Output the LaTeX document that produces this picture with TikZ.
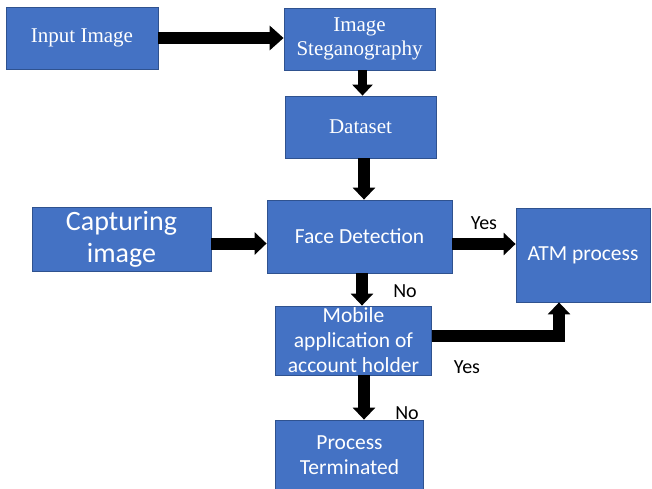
\documentclass[tikz,border=0pt]{standalone}
\usepackage{fontspec}
\setmainfont{Liberation Serif}
\newfontfamily\calibrifont{Carlito}
\usetikzlibrary{arrows.meta}
\definecolor{boxblue}{HTML}{4472C4}
\definecolor{boxedge}{HTML}{2F528F}

\begin{document}
\begin{tikzpicture}[x=1pt,y=-1pt,
    block/.style={draw=boxedge,line width=0.8pt,fill=boxblue,text=white,align=center,inner sep=0pt},
    serifbox/.style={block,font=\fontsize{21}{24}\selectfont},
    sansbox/.style={block,font=\calibrifont\fontsize{21.5}{25}\selectfont},
    flow/.style={line width=12pt,line join=miter,-{Triangle[length=12pt,width=22pt]}},
    answer/.style={font=\calibrifont\fontsize{20}{24}\selectfont}]
    \fill[white] (0,0) rectangle (652,489);
    \useasboundingbox (0,0) rectangle (652,489);

    \node[serifbox,minimum width=152pt,minimum height=62pt] (inp) at (82,38) {Input Image};
    \node[serifbox,minimum width=151pt,minimum height=62pt] (steg) at (359.5,39) {Image\\Steganography};
    \node[serifbox,minimum width=151pt,minimum height=62pt] (data) at (360.5,127) {Dataset};

    \node[sansbox,font=\calibrifont\fontsize{28}{32}\selectfont,minimum width=179pt,minimum height=64pt] (capt) at (121.5,239) {Capturing\\image};
    \node[sansbox,minimum width=185pt,minimum height=73pt] (face) at (359.5,236.5) {Face Detection};
    \node[sansbox,minimum width=134pt,minimum height=94pt] (atm) at (583,255) {ATM process};
    \node[sansbox,minimum width=156pt,minimum height=69pt] (mob) at (353.5,340.5) {Mobile\\application of\\account holder};
    \node[sansbox,minimum width=148pt,minimum height=70pt] (term) at (349.5,455) {Process\\Terminated};

    \node[answer] (yes1) at (484,223) {Yes};
    \node[answer] (no1) at (405,291) {No};
    \node[answer] (yes2) at (467,367) {Yes};
    \node[answer] (no2) at (407,413) {No};

    \draw[flow,-{Triangle[length=14pt,width=24pt]}] (inp.east) -- (inp.east -| steg.west);
    \draw[flow,line width=9pt,-{Triangle[length=11pt,width=20pt]}] ([xshift=3pt]steg.south) -- ([xshift=3pt]steg.south |- data.north);
    \draw[flow] ([xshift=3.5pt]data.south) -- ([xshift=3.5pt]data.south |- face.north);
    \draw[flow] ([yshift=-4.5pt]capt.east) -- ([yshift=-4.5pt]capt.east -| face.west);
    \draw[flow] ([yshift=-7.5pt]face.east) -- ([yshift=-7.5pt]face.east -| atm.west);
    \draw[flow] ([xshift=2.5pt]face.south) -- ([xshift=2.5pt]face.south |- mob.north);
    \draw[flow] ([yshift=4.5pt]mob.east) -| ([xshift=-24pt]atm.south);
    \draw[flow] ([xshift=10.5pt]mob.south) -- ([xshift=10.5pt]mob.south |- term.north);
\end{tikzpicture}
\end{document}
